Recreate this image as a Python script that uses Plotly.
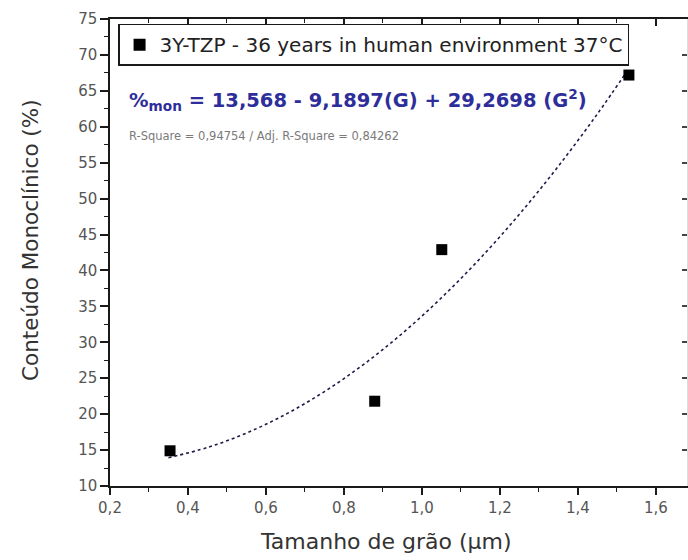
import plotly.graph_objects as go

# Measured data
grain_size = [0.354, 0.879, 1.051, 1.531]
monoclinic = [14.9, 21.8, 42.9, 67.2]

# Fit curve points (values of the fitted polynomial shown on the chart)
fit_x = [0.35, 0.45, 0.55, 0.65, 0.75, 0.85, 0.95, 1.05, 1.15, 1.25, 1.35, 1.45, 1.53]
fit_y = [13.94, 15.36, 17.37, 19.96, 23.14, 26.90, 31.25, 36.19, 41.71, 47.82, 54.51, 61.78, 68.03]

legend_label = "3Y-TZP - 36 years in human environment 37°C"
equation = "<b>%<sub>mon</sub> = 13,568 - 9,1897(G) + 29,2698 (G<sup>2</sup>)</b>"
r_square = "R-Square = 0,94754 / Adj. R-Square = 0,84262"
x_title = "Tamanho de grão (µm)"
y_title = "Conteúdo Monoclínico (%)"

FONT = "DejaVu Sans, Liberation Sans, sans-serif"
AX = "#1a1a1a"
TICKC = "#555555"

fig = go.Figure()
fig.add_trace(go.Scatter(
    x=fit_x, y=fit_y, mode="lines", showlegend=False,
    line=dict(color="#1c1c4a", width=1.6, dash="dot", shape="spline"),
    hoverinfo="skip"))
fig.add_trace(go.Scatter(
    x=grain_size, y=monoclinic, mode="markers", name=legend_label,
    marker=dict(symbol="square", size=11, color="black")))

# overlay axes for inward ticks on top/right
fig.add_trace(go.Scatter(x=[None], y=[None], xaxis="x2", yaxis="y2", showlegend=False))

xr = [0.2, 1.68]
yr = [10, 75]

fig.update_layout(
    width=688, height=560,
    margin=dict(l=110, r=1, t=19, b=74),
    paper_bgcolor="white", plot_bgcolor="white",
    separators=",.",
    font=dict(family=FONT, color=TICKC),
    xaxis=dict(range=xr, dtick=0.2, tick0=0.2, tickformat=".1f",
               showgrid=False, zeroline=False,
               showline=True, linecolor=AX, linewidth=1.5,
               ticks="outside", ticklen=7, tickwidth=1.5, tickcolor=AX,
               tickfont=dict(size=15, color=TICKC, family=FONT),
               minor=dict(dtick=0.1, ticks="outside", ticklen=4, tickwidth=1.2, tickcolor=AX)),
    yaxis=dict(range=yr, dtick=5, tick0=10,
               showgrid=False, zeroline=False,
               showline=True, linecolor=AX, linewidth=1.5,
               ticks="outside", ticklen=8, tickwidth=1.5, tickcolor=AX,
               tickfont=dict(size=15, color=TICKC, family=FONT),
               minor=dict(dtick=2.5, ticks="outside", ticklen=4, tickwidth=1.2, tickcolor=AX)),
    xaxis2=dict(range=xr, overlaying="x", side="top", dtick=0.2, tick0=0.2,
                showticklabels=False, showgrid=False, zeroline=False,
                showline=True, linecolor=AX, linewidth=1.5,
                ticks="inside", ticklen=7, tickwidth=1.5, tickcolor=AX,
                minor=dict(dtick=0.1, ticks="inside", ticklen=4, tickwidth=1.2, tickcolor=AX)),
    yaxis2=dict(range=yr, overlaying="y", side="right", dtick=5, tick0=10,
                showticklabels=False, showgrid=False, zeroline=False,
                showline=True, linecolor="#dddddd", linewidth=1,
                ticks="inside", ticklen=5, tickwidth=1.5, tickcolor="#444444"),
    legend=dict(x=0.014, y=0.99, xanchor="left", yanchor="top",
                bordercolor=AX, borderwidth=1.5, bgcolor="white",
                font=dict(size=20, color="#222222", family=FONT),
                itemsizing="constant", tracegroupgap=0),
    annotations=[
        dict(text=equation, xref="paper", yref="paper",
             x=(127 - 110) / 577, y=(486 - 100) / 467, xanchor="left", yanchor="middle",
             showarrow=False, font=dict(size=19.5, color="#2e2e9a", family=FONT)),
        dict(text=r_square, xref="paper", yref="paper",
             x=(127 - 110) / 577, y=(486 - 136) / 467, xanchor="left", yanchor="middle",
             showarrow=False, font=dict(size=11.5, color="#7a7a7a", family=FONT)),
        dict(text=x_title, xref="paper", yref="paper",
             x=(386 - 110) / 577, y=-(541 - 486) / 467, xanchor="center", yanchor="middle",
             showarrow=False, font=dict(size=22, color="#333333", family=FONT)),
        dict(text=y_title, xref="paper", yref="paper", textangle=-90,
             x=-(110 - 30) / 577, y=(486 - 240) / 467, xanchor="center", yanchor="middle",
             showarrow=False, font=dict(size=21.5, color="#333333", family=FONT)),
    ],
)

fig.write_html("out.html")
